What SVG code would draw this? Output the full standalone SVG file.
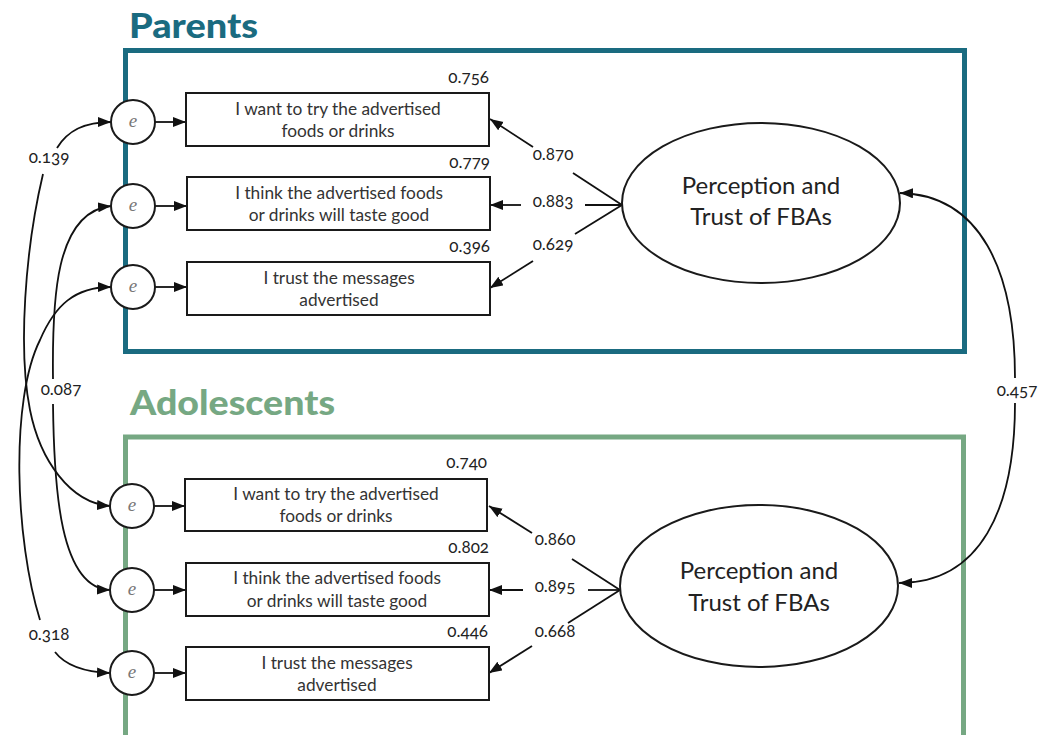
<svg xmlns="http://www.w3.org/2000/svg" width="1051" height="735" viewBox="0 0 1051 735">
<style>
.title{font-family:Lato,"Open Sans",sans-serif;font-weight:900;font-size:34px}
.box{fill:#fff;stroke:#1a1a1a;stroke-width:2}
.btxt{font-family:Lato,"Open Sans",sans-serif;font-size:17.3px;fill:#333;text-anchor:middle}
.num{font-family:Lato,"Open Sans",sans-serif;font-size:17px;fill:#222;font-variant-numeric:oldstyle-nums}
.e{fill:#fff;stroke:#1a1a1a;stroke-width:2}
.etxt{font-family:"Liberation Serif",serif;font-style:italic;font-size:19px;fill:#777;text-anchor:middle}
.ell{fill:#fff;stroke:#1a1a1a;stroke-width:2}
.etitle{font-family:Lato,"Open Sans",sans-serif;font-size:24px;fill:#222;text-anchor:middle}
.ln{fill:none;stroke:#111;stroke-width:1.8}
.arr{marker-end:url(#ah)}
</style>
<defs>
<marker id="ah" markerUnits="userSpaceOnUse" markerWidth="14" markerHeight="12" refX="13" refY="5" orient="auto">
<path d="M0,0 L13,5 L0,10 Z" fill="#111"/>
</marker>
</defs>
<rect width="1051" height="735" fill="#fff"/>

<g id="parents-frame">
<rect x="125.5" y="50.5" width="839" height="301" fill="none" stroke="#1a6b80" stroke-width="5"/>
<text class="title" x="129" y="38" fill="#1a6b80" textLength="129" lengthAdjust="spacingAndGlyphs">Parents</text>
</g>
<g id="adolescents-frame">
<rect x="125.5" y="437" width="838" height="340" fill="none" stroke="#76a883" stroke-width="5"/>
<text class="title" x="130" y="415" fill="#76a883" textLength="205" lengthAdjust="spacingAndGlyphs">Adolescents</text>
</g>

<g id="connectors">
<path class="ln arr" d="M155 122 L186 122"/>
<path class="ln arr" d="M155 206 L187 206"/>
<path class="ln arr" d="M155 287 L187 287"/>
<path class="ln arr" d="M154 506 L185 506"/>
<path class="ln arr" d="M154 590 L186 590"/>
<path class="ln arr" d="M154 673 L186 673"/>
<path class="ln" d="M622 205 L573 173"/>
<path class="ln arr" d="M533 147 L490 119"/>
<path class="ln" d="M622 205 L585 205"/>
<path class="ln arr" d="M521 205 L490 205"/>
<path class="ln" d="M622 205 L575 234"/>
<path class="ln arr" d="M533 261 L490 288"/>
<path class="ln" d="M620 590 L572 559"/>
<path class="ln arr" d="M532 533 L489 506"/>
<path class="ln" d="M620 590 L588 590"/>
<path class="ln arr" d="M523 590 L489 590"/>
<path class="ln" d="M620 590 L568 623"/>
<path class="ln arr" d="M532 646 L489 673"/>
<path class="ln arr" d="M57 148 C68 130 85 122 111 122"/>
<path class="ln arr" d="M43 174 C25 250 18 350 30 410 C40 460 70 503 110 506"/>
<path class="ln arr" d="M53 379 C52 300 55 212 111 206"/>
<path class="ln arr" d="M53 404 C54 490 60 588 110 590"/>
<path class="ln arr" d="M40 620 C15 540 10 400 40 340 C55 305 75 287 111 287"/>
<path class="ln arr" d="M55 652 C65 665 85 672 110 673"/>
<path class="ln arr" d="M1015 378 C1015 270 980 195 900 193"/>
<path class="ln arr" d="M1015 403 C1015 510 980 583 899 583"/>
</g>

<g id="connector-labels">
<text class="num" x="49" y="163" text-anchor="middle">0.139</text>
<text class="num" x="61" y="395" text-anchor="middle">0.087</text>
<text class="num" x="49" y="640" text-anchor="middle">0.318</text>
<text class="num" x="1017" y="396" text-anchor="middle">0.457</text>
<text class="num" x="553" y="160" text-anchor="middle">0.870</text>
<text class="num" x="553" y="207" text-anchor="middle">0.883</text>
<text class="num" x="553" y="250" text-anchor="middle">0.629</text>
<text class="num" x="555" y="545" text-anchor="middle">0.860</text>
<text class="num" x="555" y="592" text-anchor="middle">0.895</text>
<text class="num" x="555" y="637" text-anchor="middle">0.668</text>
</g>

<g id="p-e1"><circle class="e" cx="133" cy="122" r="22"/><text class="etxt" x="133" y="127">e</text></g>
<g id="p-e2"><circle class="e" cx="133" cy="206" r="22"/><text class="etxt" x="133" y="211">e</text></g>
<g id="p-e3"><circle class="e" cx="133" cy="287" r="22"/><text class="etxt" x="133" y="292">e</text></g>
<g id="a-e1"><circle class="e" cx="132" cy="506" r="22"/><text class="etxt" x="132" y="511">e</text></g>
<g id="a-e2"><circle class="e" cx="132" cy="590" r="22"/><text class="etxt" x="132" y="595">e</text></g>
<g id="a-e3"><circle class="e" cx="132" cy="673" r="22"/><text class="etxt" x="132" y="678">e</text></g>

<g id="p-item1">
<rect class="box" x="186" y="93" width="303" height="53"/>
<text class="btxt" x="338" y="115">I want to try the advertised</text>
<text class="btxt" x="338" y="137">foods or drinks</text>
<text class="num" x="489" y="83" text-anchor="end">0.756</text>
</g>
<g id="p-item2">
<rect class="box" x="187" y="177" width="303" height="53"/>
<text class="btxt" x="339" y="199">I think the advertised foods</text>
<text class="btxt" x="339" y="221">or drinks will taste good</text>
<text class="num" x="490" y="168" text-anchor="end">0.779</text>
</g>
<g id="p-item3">
<rect class="box" x="187" y="262" width="303" height="53"/>
<text class="btxt" x="339" y="284">I trust the messages</text>
<text class="btxt" x="339" y="306">advertised</text>
<text class="num" x="490" y="252" text-anchor="end">0.396</text>
</g>
<g id="p-latent">
<ellipse class="ell" cx="761" cy="203" rx="139" ry="80"/>
<text class="etitle" x="761" y="194">Perception and</text>
<text class="etitle" x="761" y="225">Trust of FBAs</text>
</g>

<g id="a-item1">
<rect class="box" x="185" y="479" width="302" height="52"/>
<text class="btxt" x="336" y="500">I want to try the advertised</text>
<text class="btxt" x="336" y="522">foods or drinks</text>
<text class="num" x="487" y="468" text-anchor="end">0.740</text>
</g>
<g id="a-item2">
<rect class="box" x="186" y="563" width="303" height="53"/>
<text class="btxt" x="337" y="584">I think the advertised foods</text>
<text class="btxt" x="337" y="607">or drinks will taste good</text>
<text class="num" x="489" y="553" text-anchor="end">0.802</text>
</g>
<g id="a-item3">
<rect class="box" x="186" y="647" width="303" height="53"/>
<text class="btxt" x="337" y="669">I trust the messages</text>
<text class="btxt" x="337" y="691">advertised</text>
<text class="num" x="488" y="637" text-anchor="end">0.446</text>
</g>
<g id="a-latent">
<ellipse class="ell" cx="759" cy="586" rx="139" ry="81"/>
<text class="etitle" x="759" y="579">Perception and</text>
<text class="etitle" x="759" y="611">Trust of FBAs</text>
</g>
</svg>
